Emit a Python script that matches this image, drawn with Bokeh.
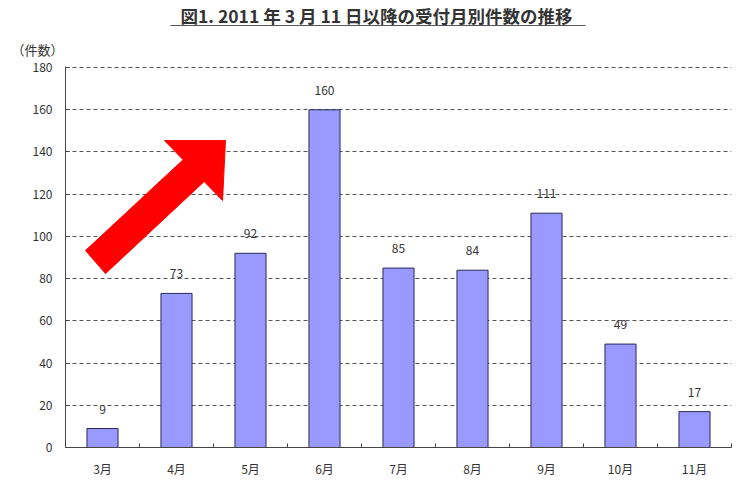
from bokeh.plotting import figure
from bokeh.layouts import column
from bokeh.models import Range1d, FixedTicker, ColumnDataSource, Title
from bokeh.embed import file_html
from bokeh.resources import INLINE
from bokeh.core.properties import value

# ---- data ----
months = ["3月", "4月", "5月", "6月", "7月", "8月", "9月", "10月", "11月"]
counts = [9, 73, 92, 160, 85, 84, 111, 49, 17]
y_ticks = [0, 20, 40, 60, 80, 100, 120, 140, 160, 180]
title_text = "図1. 2011 年 3 月 11 日以降の受付月別件数の推移"
unit_text = "（件数）"
# decorative red arrow outline (data coordinates: category index, count)
arrow_x = [-0.23, 1.089, 0.838, 1.662, 1.622, 1.374, 0.041]
arrow_y = [93.3, 136.3, 145.4, 145.4, 117.0, 126.0, 82.4]

FONT = "Noto Sans CJK JP"
W = 742
HEAD_H = 28
LEFT, RIGHT = 65, 11

# ---- header (title + underline) in pixel-like coordinates ----
h = figure(width=W, height=HEAD_H, output_backend="svg", toolbar_location=None,
           x_range=Range1d(LEFT, W - RIGHT), y_range=Range1d(HEAD_H, 0),
           x_axis_location=None, y_axis_location=None,
           min_border_left=LEFT, min_border_right=RIGHT, min_border_top=0, min_border_bottom=0)
h.grid.visible = False
h.outline_line_color = None
h.text(x=[376], y=[15], text=[title_text], text_align="center", text_baseline="middle",
       text_font=value(FONT), text_font_size="17.5px", text_font_style="bold",
       text_color="#333333")
h.segment(x0=[170], y0=[25], x1=[585], y1=[25], line_color="#555555", line_width=1)

# ---- main chart ----
xpos = list(range(len(months)))
src = ColumnDataSource(dict(x=xpos, top=counts, label=[str(c) for c in counts]))

p = figure(width=W, height=482 - HEAD_H, output_backend="svg", toolbar_location=None,
           x_range=Range1d(-0.5, len(months) - 0.5), y_range=Range1d(0, 180.5),
           min_border_left=LEFT, min_border_right=RIGHT, min_border_top=66 - HEAD_H,
           min_border_bottom=35)
p.outline_line_color = None
p.title = Title(text=unit_text, align="left", offset=-54, standoff=15,
                text_font=FONT, text_font_size="13px", text_font_style="normal",
                text_color="#333333")

p.vbar(x="x", top="top", width=0.42, bottom=0, source=src,
       fill_color="#9999ff", line_color="#2a2a55", line_width=1)
p.text(x="x", y="top", text="label", source=src, text_align="center",
       text_baseline="bottom", y_offset=-15, text_font=value(FONT),
       text_font_size="12px", text_color="#333333")

p.patch(arrow_x, arrow_y, fill_color="#ff0000", line_color="#ff0000", line_width=1)

xa = p.xaxis[0]
xa.ticker = FixedTicker(ticks=xpos, minor_ticks=[i + 0.5 for i in xpos])
xa.major_label_overrides = {i: m for i, m in zip(xpos, months)}
xa.major_tick_in = 0
xa.major_tick_out = 0
xa.minor_tick_in = 4
xa.minor_tick_out = 0
xa.minor_tick_line_color = "#444444"
xa.axis_line_color = "#444444"
xa.major_label_standoff = 12
xa.major_label_text_font = FONT
xa.major_label_text_font_size = "12px"
xa.major_label_text_color = "#333333"

ya = p.yaxis[0]
ya.ticker = FixedTicker(ticks=y_ticks)
ya.major_tick_in = 4
ya.major_tick_out = 0
ya.minor_tick_line_color = None
ya.axis_line_color = "#444444"
ya.major_tick_line_color = "#444444"
ya.major_label_standoff = 13
ya.major_label_text_font = FONT
ya.major_label_text_font_size = "12px"
ya.major_label_text_color = "#333333"

p.xgrid.grid_line_color = None
p.ygrid.ticker = FixedTicker(ticks=y_ticks[1:])
p.ygrid.grid_line_color = "#555555"
p.ygrid.grid_line_dash = "4 3"
p.ygrid.grid_line_width = 1

layout = column(h, p, spacing=0)
open("out.html", "w").write(file_html(layout, INLINE))
